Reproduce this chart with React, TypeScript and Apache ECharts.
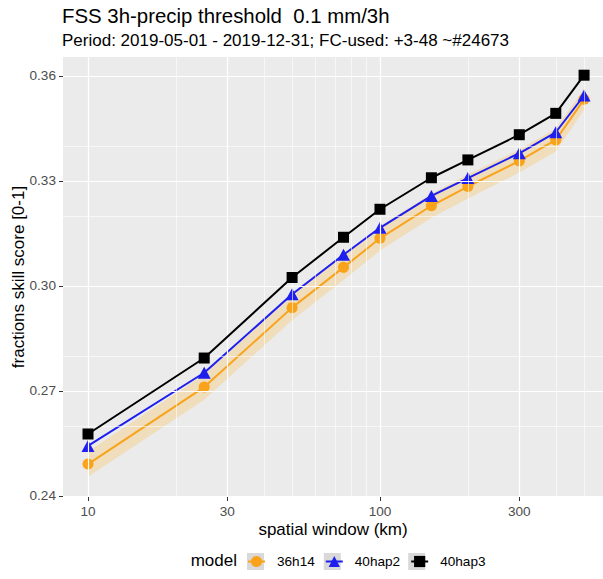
import React, { useEffect, useRef } from 'react';
import * as echarts from 'echarts';

// ---- data ----
const windowsKm = [10, 25, 50, 75, 100, 150, 200, 300, 400, 500];
const fss36h14 = [0.2491, 0.2711, 0.2938, 0.3053, 0.3136, 0.3229, 0.3284, 0.3357, 0.3417, 0.3533];
const fss36h14Lower = [0.2455, 0.2675, 0.2902, 0.3017, 0.3101, 0.3195, 0.3250, 0.3324, 0.3384, 0.3503];
const fss36h14Upper = [0.2527, 0.2747, 0.2974, 0.3089, 0.3171, 0.3263, 0.3318, 0.3390, 0.3450, 0.3563];
const fss40hap2 = [0.2543, 0.2752, 0.2976, 0.3089, 0.3166, 0.3257, 0.3308, 0.3379, 0.3439, 0.3544];
const fss40hap3 = [0.2577, 0.2794, 0.3024, 0.3139, 0.3219, 0.3309, 0.3360, 0.3432, 0.3493, 0.3602];
const modelNames = ['36h14', '40hap2', '40hap3'];
const xMajorTicks = [10, 30, 100, 300];
const xMinorTicks = [20, 40, 50, 60, 70, 80, 90, 200, 400, 500];
const yMajorTicks = [0.24, 0.27, 0.30, 0.33, 0.36];
const yMinorTicks = [0.255, 0.285, 0.315, 0.345];

const FONT = "'Liberation Sans', Arial, sans-serif";
const ORANGE = '#F9A31A';
const BLUE = '#1E1EEE';
const BLACK = '#000000';
const KEY_BG = '#D9D9D9';
const X_MIN = 8.21;
const X_MAX = 580.5;

export default function App() {
  const ref = useRef<HTMLDivElement>(null);

  useEffect(() => {
    if (!ref.current) return;
    const chart = echarts.init(ref.current, undefined, { renderer: 'svg' });
    const pair = (ys: number[]) => windowsKm.map((x, i) => [x, ys[i]]);

    const gridLines: any[] = [];
    xMinorTicks.forEach((v) =>
      gridLines.push({ xAxis: v, lineStyle: { color: '#ffffff', width: 0.6, type: 'solid' }, label: { show: false } })
    );
    yMinorTicks.forEach((v) =>
      gridLines.push({ yAxis: v, lineStyle: { color: '#ffffff', width: 0.6, type: 'solid' }, label: { show: false } })
    );
    xMajorTicks.forEach((v) =>
      gridLines.push({
        xAxis: v,
        lineStyle: { color: '#ffffff', width: 1.2, type: 'solid' },
        label: {
          show: true,
          position: 'start',
          formatter: String(v),
          distance: 7,
          color: '#4D4D4D',
          fontSize: 13.6,
          fontFamily: FONT,
        },
      })
    );
    yMajorTicks.forEach((v) =>
      gridLines.push({ yAxis: v, lineStyle: { color: '#ffffff', width: 1.2, type: 'solid' }, label: { show: false } })
    );

    const option: any = {
      animation: false,
      backgroundColor: '#ffffff',
      textStyle: { fontFamily: FONT },
      title: [
        {
          text: 'FSS 3h-precip threshold  0.1 mm/3h',
          left: 62,
          top: 6,
          padding: 0,
          textStyle: { fontSize: 20.4, fontWeight: 'normal', color: '#000000', fontFamily: FONT },
        },
        {
          text: 'Period: 2019-05-01 - 2019-12-31; FC-used: +3-48 ~#24673',
          left: 62,
          top: 32,
          padding: 0,
          textStyle: { fontSize: 17, fontWeight: 'normal', color: '#000000', fontFamily: FONT },
        },
      ],
      grid: {
        left: 63,
        right: 0,
        top: 57,
        bottom: 82,
        show: true,
        backgroundColor: '#EBEBEB',
        borderWidth: 0,
        containLabel: false,
        outerBoundsMode: 'none',
      },
      xAxis: [
        {
          type: 'log',
          logBase: 10,
          min: X_MIN,
          max: X_MAX,
          axisLine: { show: false },
          axisTick: { show: false },
          axisLabel: { show: false },
          splitLine: { show: false },
          name: 'spatial window (km)',
          nameLocation: 'middle',
          nameGap: 24,
          nameMoveOverlap: false,
          nameTextStyle: { fontSize: 17, color: '#000000', fontFamily: FONT },
        },
        {
          // tick marks only (log-transformed positions of the major breaks)
          type: 'value',
          position: 'bottom',
          min: Math.log10(X_MIN),
          max: Math.log10(X_MAX),
          axisLine: { show: false },
          axisTick: {
            show: true,
            customValues: xMajorTicks.map((v) => Math.log10(v)),
            length: 4,
            lineStyle: { color: '#333333' },
          },
          axisLabel: { show: false },
          splitLine: { show: false },
        },
      ],
      yAxis: {
        type: 'value',
        min: 0.2397,
        max: 0.3654,
        axisLine: { show: false },
        axisTick: { show: true, customValues: yMajorTicks, length: 4, lineStyle: { color: '#333333' } },
        axisLabel: {
          customValues: yMajorTicks,
          formatter: (v: number) => v.toFixed(2),
          fontSize: 13.6,
          color: '#4D4D4D',
          margin: 7,
          fontFamily: FONT,
        },
        splitLine: { show: false },
        name: 'fractions skill score [0-1]',
        nameLocation: 'middle',
        nameGap: 36,
        nameMoveOverlap: false,
        nameRotate: 90,
        nameTextStyle: { fontSize: 17, color: '#000000', fontFamily: FONT },
      },
      legend: {
        data: modelNames,
        left: 247,
        top: 554.5,
        padding: 0,
        itemWidth: 17,
        itemHeight: 14,
        itemGap: 10,
        selectedMode: false,
        z: 10,
        textStyle: { fontSize: 13.6, color: '#000000', fontFamily: FONT, padding: [0, 0, 0, 7] },
      },
      graphic: [
        {
          type: 'text',
          right: 603 - 237,
          top: 552,
          style: { text: 'model', fontSize: 17, fill: '#000000', fontFamily: FONT },
        },
        { type: 'rect', left: 247, top: 553, shape: { width: 17, height: 17 }, style: { fill: KEY_BG }, z: 0 },
        { type: 'rect', left: 323.8, top: 553, shape: { width: 17, height: 17 }, style: { fill: KEY_BG }, z: 0 },
        { type: 'rect', left: 408.2, top: 553, shape: { width: 17, height: 17 }, style: { fill: KEY_BG }, z: 0 },
      ],
      series: [
        {
          name: 'gridlines',
          type: 'line',
          data: [],
          silent: true,
          z: 1,
          markLine: {
            silent: true,
            symbol: ['none', 'none'],
            animation: false,
            data: gridLines,
          },
        },
        {
          name: 'ribbon',
          type: 'custom',
          silent: true,
          z: 2,
          data: windowsKm.map((x, i) => [x, fss36h14Lower[i], fss36h14Upper[i]]),
          encode: { x: 0, y: [1, 2] },
          renderItem: (params: any, api: any) => {
            if (params.dataIndex !== 0) return null;
            const up = windowsKm.map((x, i) => api.coord([x, fss36h14Upper[i]]));
            const lo = windowsKm.map((x, i) => api.coord([x, fss36h14Lower[i]])).reverse();
            return {
              type: 'polygon',
              shape: { points: up.concat(lo) },
              style: { fill: 'rgba(255,165,0,0.2)', stroke: 'none' },
            };
          },
        },
        {
          name: '36h14',
          type: 'line',
          data: pair(fss36h14),
          symbol: 'circle',
          symbolSize: 11,
          z: 3,
          lineStyle: { width: 2, color: ORANGE },
          itemStyle: { color: ORANGE },
        },
        {
          name: '40hap2',
          type: 'line',
          data: pair(fss40hap2),
          symbol: 'triangle',
          symbolSize: [13, 12],
          z: 4,
          lineStyle: { width: 2, color: BLUE },
          itemStyle: { color: BLUE },
        },
        {
          name: '40hap3',
          type: 'line',
          data: pair(fss40hap3),
          symbol: 'rect',
          symbolSize: 11,
          z: 5,
          lineStyle: { width: 2, color: BLACK },
          itemStyle: { color: BLACK },
        },
      ],
    };

    chart.setOption(option);
    return () => chart.dispose();
  }, []);

  return (
    <div
      ref={ref}
      style={{ position: 'absolute', left: 0, top: 0, width: 603, height: 579 }}
    />
  );
}
